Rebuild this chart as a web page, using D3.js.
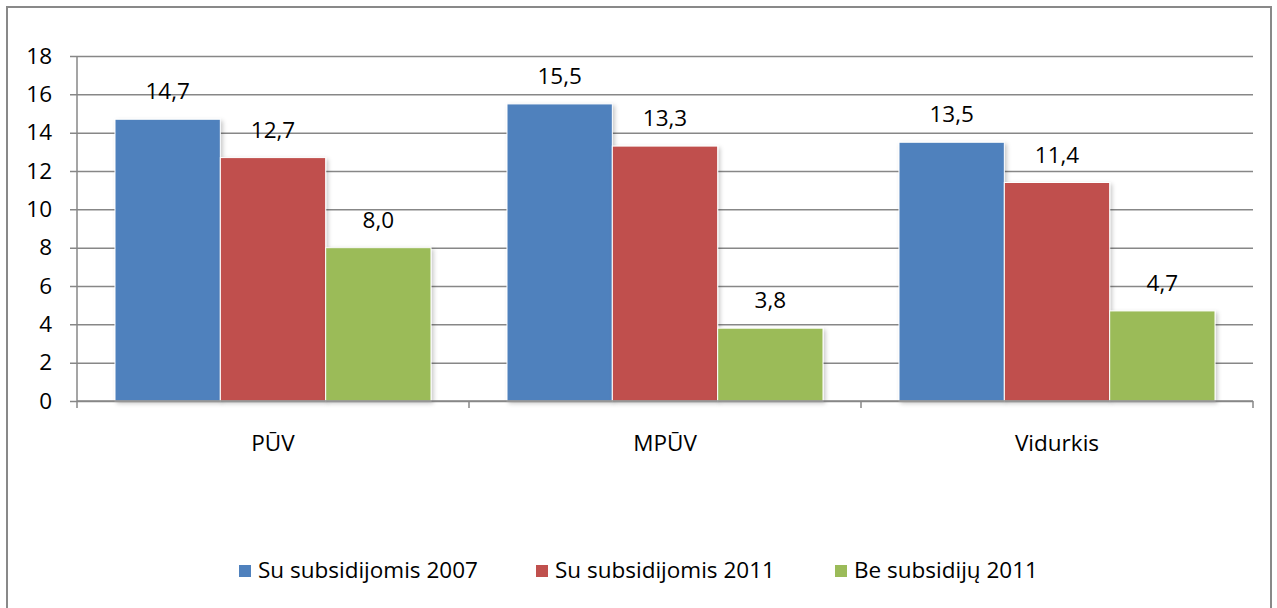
<!DOCTYPE html>
<html>
<head>
<meta charset="utf-8">
<script src="https://cdn.jsdelivr.net/npm/d3@7"></script>
<style>
  html, body { margin: 0; padding: 0; background: #fff; }
  svg { display: block; font-family: "Open Sans", sans-serif; }
</style>
</head>
<body>
<svg id="chart" width="1277" height="608"></svg>
<script>
const categories = ["PŪV", "MPŪV", "Vidurkis"];
const seriesNames = ["Su subsidijomis 2007", "Su subsidijomis 2011", "Be subsidijų 2011"];
const seriesColors = ["#4F81BD", "#C0504D", "#9BBB59"];
const values2007 = [14.7, 15.5, 13.5];
const values2011 = [12.7, 13.3, 11.4];
const valuesBe2011 = [8.0, 3.8, 4.7];
const yTicks = [0, 2, 4, 6, 8, 10, 12, 14, 16, 18];

const series = [values2007, values2011, valuesBe2011];
const data = [];
categories.forEach((c, ci) => {
  series.forEach((s, si) => data.push({ cat: c, name: seriesNames[si], si, value: s[ci] }));
});

const FS = 22.5;
const svg = d3.select("#chart");
const fmt = v => d3.format(".1f")(v).replace(".", ",");

// frame
svg.append("rect").attr("x", 7).attr("y", 7).attr("width", 1264).attr("height", 640)
  .attr("fill", "#fff").attr("stroke", "#898989").attr("stroke-width", 2);

const defs = svg.append("defs");
const f = defs.append("filter").attr("id", "sh").attr("x", "-10%").attr("y", "-10%").attr("width", "130%").attr("height", "130%");
f.append("feDropShadow").attr("dx", 2).attr("dy", 2).attr("stdDeviation", 2.2)
  .attr("flood-color", "#000").attr("flood-opacity", 0.22);

const x = d3.scaleBand().domain(categories).range([77, 1253]).paddingInner(0).paddingOuter(0);
const xs = d3.scaleBand().domain(seriesNames).range([38, x.bandwidth() - 38]).padding(0);
const y = d3.scaleLinear().domain([0, 18]).range([401, 56]);

// gridlines + y ticks
const yAxis = d3.axisLeft(y).tickValues(yTicks).tickSize(-(1253 - 70)).tickPadding(18).tickFormat(d => d);
const gy = svg.append("g").attr("transform", "translate(70,0)").call(yAxis);
gy.select(".domain").remove();
gy.selectAll(".tick line").attr("stroke", "#878787").attr("stroke-width", 1.5);
gy.selectAll(".tick text").attr("fill", "#000").attr("font-size", FS).attr("font-family", "Open Sans, sans-serif");

// y axis line
svg.append("line").attr("x1", 77).attr("x2", 77).attr("y1", 56).attr("y2", 401)
  .attr("stroke", "#878787").attr("stroke-width", 1.5);

// bars
svg.append("g").selectAll("rect").data(data).join("rect")
  .attr("x", d => x(d.cat) + xs(d.name))
  .attr("y", d => y(d.value))
  .attr("width", xs.bandwidth())
  .attr("height", d => y(0) - y(d.value))
  .attr("fill", d => seriesColors[d.si])
  .attr("stroke", "#fff").attr("stroke-width", 1)
  .attr("filter", "url(#sh)");

// x axis
const xAxis = d3.axisBottom(x).tickSize(0).tickPadding(0);
const gx = svg.append("g").attr("transform", "translate(0,401)").call(xAxis);
gx.select(".domain").remove();
gx.selectAll(".tick text").remove();
svg.append("line").attr("x1", 77).attr("x2", 1253).attr("y1", 401).attr("y2", 401)
  .attr("stroke", "#878787").attr("stroke-width", 1.5);
const boundaries = categories.map(c => x(c)).concat([x(categories[categories.length - 1]) + x.bandwidth()]);
svg.append("g").selectAll("line").data(boundaries).join("line")
  .attr("x1", d => d).attr("x2", d => d).attr("y1", 401).attr("y2", 408)
  .attr("stroke", "#878787").attr("stroke-width", 1.5);

svg.append("g").selectAll("text").data(categories).join("text")
  .attr("x", d => x(d) + x.bandwidth() / 2).attr("y", 451)
  .attr("text-anchor", "middle").attr("font-size", FS).attr("fill", "#000")
  .text(d => d);

// value labels
svg.append("g").selectAll("text").data(data).join("text")
  .attr("x", d => x(d.cat) + xs(d.name) + xs.bandwidth() / 2)
  .attr("y", d => y(d.value) - 20)
  .attr("text-anchor", "middle").attr("font-size", FS).attr("fill", "#000")
  .text(d => fmt(d.value));

// legend
const legendX = [239, 536, 835];
const lg = svg.append("g").selectAll("g").data(seriesNames).join("g")
  .attr("transform", (d, i) => `translate(${legendX[i]},565)`);
lg.append("rect").attr("width", 12).attr("height", 12).attr("fill", (d, i) => seriesColors[i]);
lg.append("text").attr("x", 19).attr("y", 13).attr("font-size", FS).attr("fill", "#000").text(d => d);
</script>
</body>
</html>
